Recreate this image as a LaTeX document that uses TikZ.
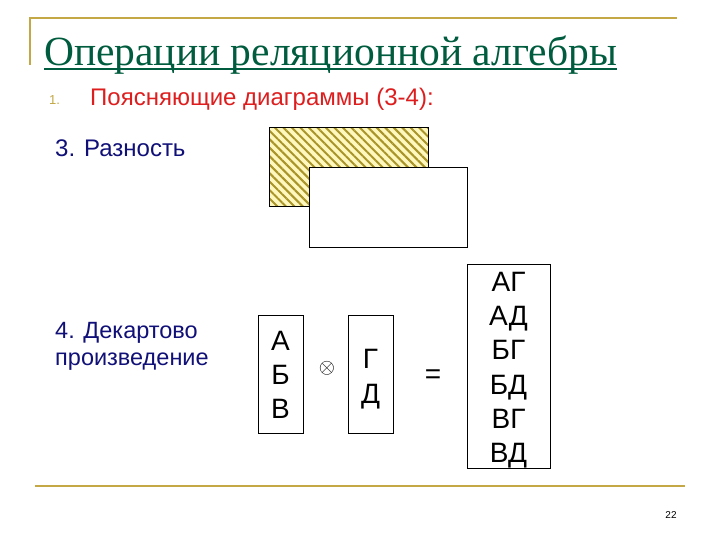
\documentclass[tikz,border=0pt]{standalone}
\usepackage{fontspec}
\setmainfont{Liberation Sans}
\newfontfamily\titlefont{Liberation Serif}
\usetikzlibrary{patterns.meta}

\definecolor{framegold}{RGB}{196,168,70}
\definecolor{titlegreen}{RGB}{0,92,62}
\definecolor{itemred}{RGB}{222,30,30}
\definecolor{textnavy}{RGB}{16,16,120}
\definecolor{hatchyellow}{RGB}{255,248,190}
\definecolor{hatcholive}{RGB}{168,148,40}

\tikzset{
  rowbox/.style={draw, line width=1pt, minimum width=45pt, minimum height=118pt, inner sep=0pt},
  rowtext/.style={inner sep=0pt, align=center, font=\fontsize{28}{34.3}\selectfont},
  heading/.style={anchor=base west, inner sep=0pt, textnavy, align=left,
    font=\fontsize{24}{27}\selectfont},
}

\begin{document}
\begin{tikzpicture}[x=1pt, y=-1pt]
	\useasboundingbox[fill=white] (0,0) rectangle (720,540);
	
	% Frame lines
	\draw[framegold, line width=2pt] (30,65) -- (30,18) -- (677,18);
	\draw[framegold, line width=2pt] (35,486) -- (685,486);
	
	% Title
	\node[anchor=base west, inner sep=0pt, titlegreen, font=\titlefont\fontsize{41.5}{41.5}\selectfont]
		(title) at (44,66) {Операции реляционной алгебры};
	\draw[titlegreen, line width=2pt] ([yshift=-3pt]title.base west) -- ([yshift=-3pt]title.base east);
	
	% First item
	\node[anchor=base west, inner sep=0pt, framegold, font=\fontsize{13}{13}\selectfont]
		(itemnum) at (49,105) {1.};
	\node[anchor=base west, inner sep=0pt, itemred, font=\fontsize{24}{24}\selectfont]
		(item) at (90,106) {Поясняющие диаграммы (3-4):};
	
	% 3. Difference
	\node[heading] (diff) at (55,157) {3. Разность};
	\fill[hatchyellow] (269,128) rectangle (428,207);
	\fill[pattern={Lines[angle=-45, distance=6pt, line width=2pt]}, pattern color=hatcholive]
		(269,128) rectangle (428,207);
	\draw[line width=1pt] (269,128) rectangle (428,207);
	\draw[line width=1pt, fill=white] (309,168) rectangle (467,247);
	
	% 4. Cartesian product
	\node[heading, font=\fontsize{23.5}{27}\selectfont] (prodtext) at (55,365) {4. Декартово\\произведение};
	\node[rowbox] (left) at (280.5,374) {};
	\node[rowtext] (lefttext) at ([yshift=-1pt]left.center) {А\\Б\\В};
	\node[font=\fontsize{20}{20}\selectfont] (times) at (327,368) {$\otimes$};
	\node[rowbox] (right) at (370.5,374) {};
	\node[rowtext] (righttext) at ([yshift=-5pt]right.center) {Г\\Д};
	\node[font=\fontsize{28}{28}\selectfont] (equals) at (433,377) {=};
	\node[rowbox, minimum width=83pt, minimum height=204pt] (result) at (508.5,366) {};
	\node[rowtext] (resulttext) at ([yshift=-4pt]result.center) {АГ\\АД\\БГ\\БД\\ВГ\\ВД};
	
	% Page number
	\node[font=\fontsize{10}{10}\selectfont] (page) at (671,515) {22};
\end{tikzpicture}
\end{document}
